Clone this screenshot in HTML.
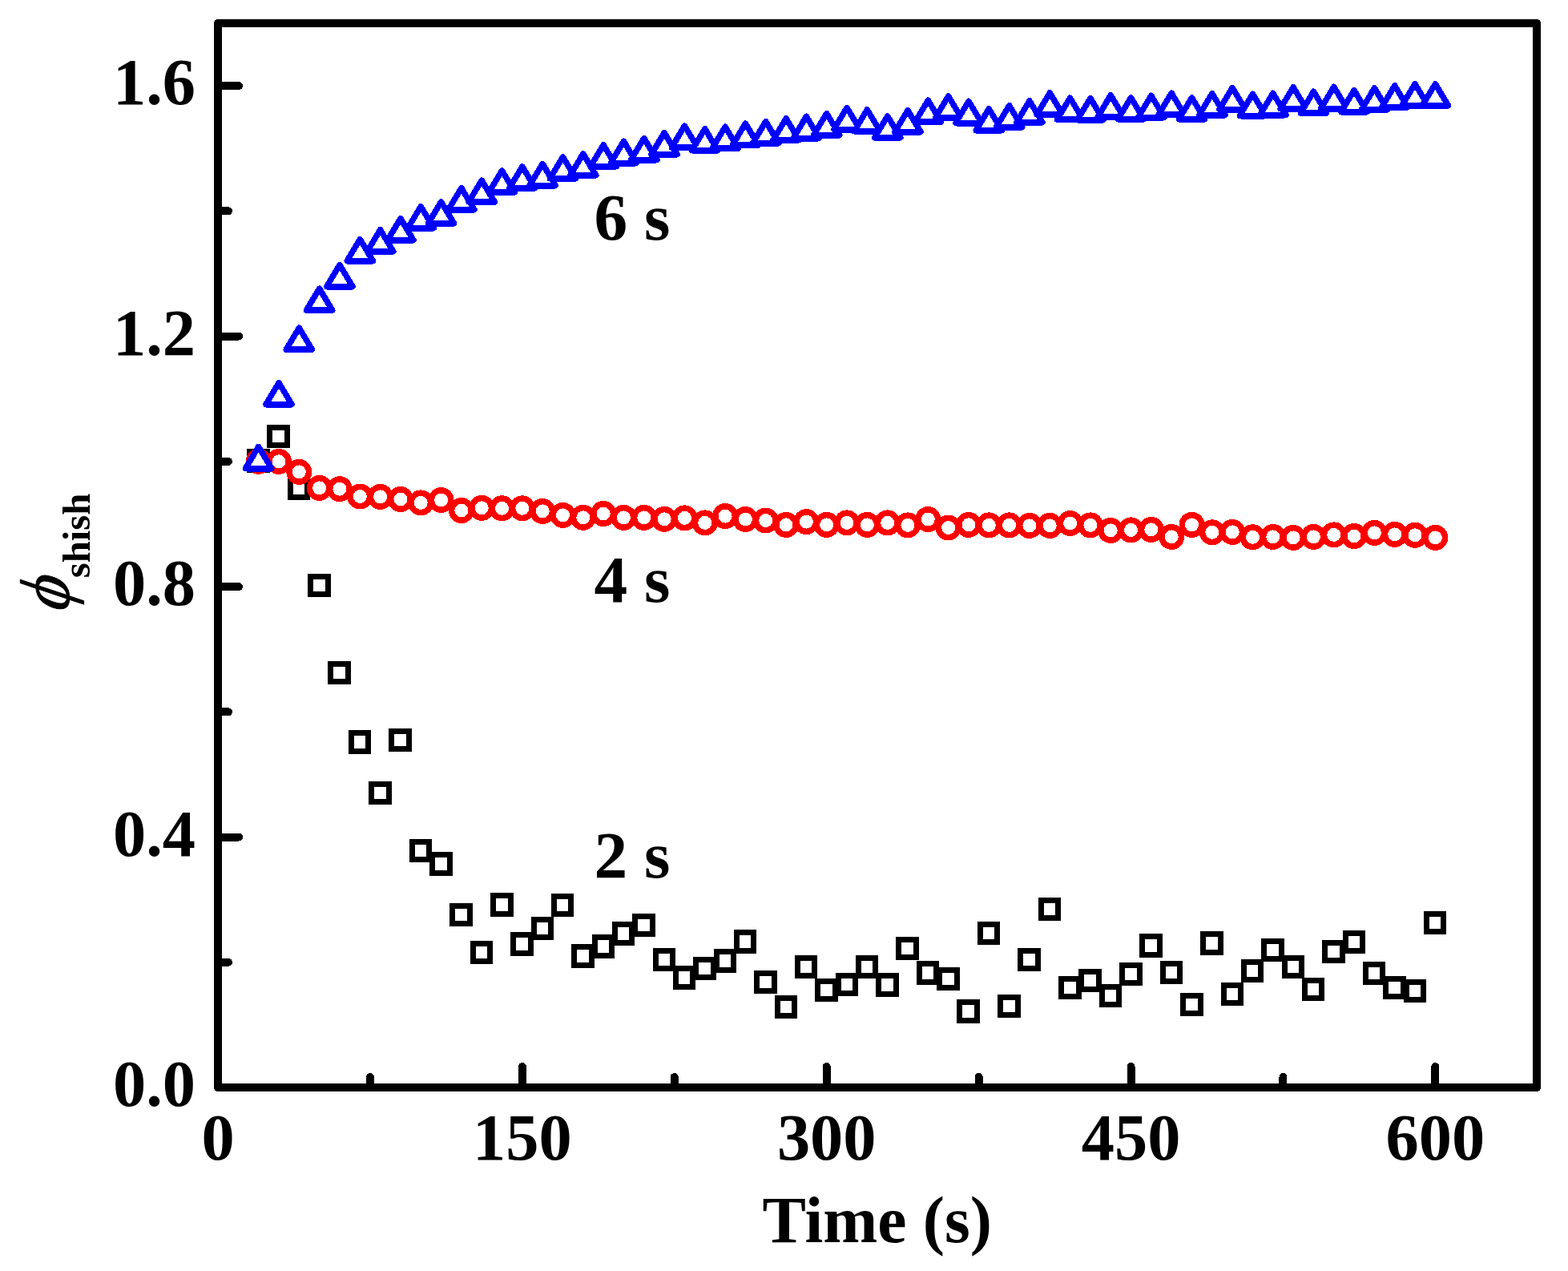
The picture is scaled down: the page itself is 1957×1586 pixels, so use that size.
<!DOCTYPE html>
<html lang="en"><head><meta charset="utf-8"><title>Shish fraction vs time</title>
<style>
html,body{margin:0;padding:0;background:#fff;}
body{width:1957px;height:1586px;overflow:hidden;}
svg{display:block;}
text{font-family:"Liberation Serif","DejaVu Serif",serif;font-weight:bold;fill:#000;}
.g{shape-rendering:crispEdges;}
</style></head><body>
<svg width="1957" height="1586" viewBox="0 0 1957 1586">
<rect x="0" y="0" width="1957" height="1586" fill="#fff"/>
<g class="g" fill="#fff" stroke="#000" stroke-width="7">
<rect x="311.65" y="563.75" width="21.5" height="22.5"/>
<rect x="336.97" y="533.25" width="21.5" height="22.5"/>
<rect x="362.29" y="597.95" width="21.5" height="22.5"/>
<rect x="387.62" y="719.25" width="21.5" height="22.5"/>
<rect x="412.94" y="828.25" width="21.5" height="22.5"/>
<rect x="438.26" y="914.75" width="21.5" height="22.5"/>
<rect x="463.58" y="978.25" width="21.5" height="22.5"/>
<rect x="488.91" y="912.25" width="21.5" height="22.5"/>
<rect x="514.23" y="1050.25" width="21.5" height="22.5"/>
<rect x="539.55" y="1066.65" width="21.5" height="22.5"/>
<rect x="564.88" y="1130.25" width="21.5" height="22.5"/>
<rect x="590.2" y="1177.25" width="21.5" height="22.5"/>
<rect x="615.52" y="1117.75" width="21.5" height="22.5"/>
<rect x="640.85" y="1166.75" width="21.5" height="22.5"/>
<rect x="666.17" y="1147.15" width="21.5" height="22.5"/>
<rect x="691.49" y="1118.25" width="21.5" height="22.5"/>
<rect x="716.82" y="1181.75" width="21.5" height="22.5"/>
<rect x="742.14" y="1169.75" width="21.5" height="22.5"/>
<rect x="767.46" y="1153.65" width="21.5" height="22.5"/>
<rect x="792.78" y="1143.25" width="21.5" height="22.5"/>
<rect x="818.11" y="1186.35" width="21.5" height="22.5"/>
<rect x="843.43" y="1208.75" width="21.5" height="22.5"/>
<rect x="868.75" y="1197.25" width="21.5" height="22.5"/>
<rect x="894.08" y="1187.75" width="21.5" height="22.5"/>
<rect x="919.4" y="1163.75" width="21.5" height="22.5"/>
<rect x="944.72" y="1214.15" width="21.5" height="22.5"/>
<rect x="970.05" y="1245.25" width="21.5" height="22.5"/>
<rect x="995.37" y="1195.25" width="21.5" height="22.5"/>
<rect x="1020.69" y="1224.05" width="21.5" height="22.5"/>
<rect x="1046.02" y="1217.05" width="21.5" height="22.5"/>
<rect x="1071.34" y="1195.25" width="21.5" height="22.5"/>
<rect x="1096.66" y="1217.65" width="21.5" height="22.5"/>
<rect x="1121.98" y="1172.25" width="21.5" height="22.5"/>
<rect x="1147.31" y="1202.75" width="21.5" height="22.5"/>
<rect x="1172.63" y="1210.15" width="21.5" height="22.5"/>
<rect x="1197.95" y="1250.75" width="21.5" height="22.5"/>
<rect x="1223.28" y="1153.15" width="21.5" height="22.5"/>
<rect x="1248.6" y="1244.15" width="21.5" height="22.5"/>
<rect x="1273.92" y="1186.35" width="21.5" height="22.5"/>
<rect x="1299.25" y="1123.35" width="21.5" height="22.5"/>
<rect x="1324.57" y="1221.25" width="21.5" height="22.5"/>
<rect x="1349.89" y="1212.25" width="21.5" height="22.5"/>
<rect x="1375.22" y="1231.25" width="21.5" height="22.5"/>
<rect x="1400.54" y="1204.25" width="21.5" height="22.5"/>
<rect x="1425.86" y="1168.75" width="21.5" height="22.5"/>
<rect x="1451.18" y="1202.25" width="21.5" height="22.5"/>
<rect x="1476.51" y="1242.15" width="21.5" height="22.5"/>
<rect x="1501.83" y="1165.75" width="21.5" height="22.5"/>
<rect x="1527.15" y="1229.25" width="21.5" height="22.5"/>
<rect x="1552.48" y="1200.25" width="21.5" height="22.5"/>
<rect x="1577.8" y="1174.15" width="21.5" height="22.5"/>
<rect x="1603.12" y="1195.25" width="21.5" height="22.5"/>
<rect x="1628.45" y="1223.25" width="21.5" height="22.5"/>
<rect x="1653.77" y="1176.25" width="21.5" height="22.5"/>
<rect x="1679.09" y="1164.25" width="21.5" height="22.5"/>
<rect x="1704.42" y="1203.25" width="21.5" height="22.5"/>
<rect x="1729.74" y="1221.25" width="21.5" height="22.5"/>
<rect x="1755.06" y="1225.25" width="21.5" height="22.5"/>
<rect x="1780.38" y="1140.25" width="21.5" height="22.5"/>
</g>
<g class="g" fill="#fff" stroke="#f00" stroke-width="7.5">
<circle cx="322.65" cy="575.75" r="12.25"/>
<circle cx="347.97" cy="575.9" r="12.25"/>
<circle cx="373.29" cy="588.9" r="12.25"/>
<circle cx="398.62" cy="608.9" r="12.25"/>
<circle cx="423.94" cy="610.2" r="12.25"/>
<circle cx="449.26" cy="619.5" r="12.25"/>
<circle cx="474.58" cy="619.9" r="12.25"/>
<circle cx="499.91" cy="623" r="12.25"/>
<circle cx="525.23" cy="627.4" r="12.25"/>
<circle cx="550.55" cy="624" r="12.25"/>
<circle cx="575.88" cy="637" r="12.25"/>
<circle cx="601.2" cy="633.8" r="12.25"/>
<circle cx="626.52" cy="634.3" r="12.25"/>
<circle cx="651.85" cy="634.3" r="12.25"/>
<circle cx="677.17" cy="637.9" r="12.25"/>
<circle cx="702.49" cy="642.9" r="12.25"/>
<circle cx="727.82" cy="645.8" r="12.25"/>
<circle cx="753.14" cy="641" r="12.25"/>
<circle cx="778.46" cy="645.9" r="12.25"/>
<circle cx="803.78" cy="645.9" r="12.25"/>
<circle cx="829.11" cy="647.8" r="12.25"/>
<circle cx="854.43" cy="646.4" r="12.25"/>
<circle cx="879.75" cy="652.4" r="12.25"/>
<circle cx="905.08" cy="644.1" r="12.25"/>
<circle cx="930.4" cy="648" r="12.25"/>
<circle cx="955.72" cy="649.5" r="12.25"/>
<circle cx="981.05" cy="654.9" r="12.25"/>
<circle cx="1006.37" cy="651.1" r="12.25"/>
<circle cx="1031.69" cy="654.9" r="12.25"/>
<circle cx="1057.02" cy="652.4" r="12.25"/>
<circle cx="1082.34" cy="654.9" r="12.25"/>
<circle cx="1107.66" cy="652.4" r="12.25"/>
<circle cx="1132.98" cy="655.4" r="12.25"/>
<circle cx="1158.31" cy="648" r="12.25"/>
<circle cx="1183.63" cy="658.5" r="12.25"/>
<circle cx="1208.95" cy="654.9" r="12.25"/>
<circle cx="1234.28" cy="655.4" r="12.25"/>
<circle cx="1259.6" cy="655.4" r="12.25"/>
<circle cx="1284.92" cy="655.9" r="12.25"/>
<circle cx="1310.25" cy="655.9" r="12.25"/>
<circle cx="1335.57" cy="653" r="12.25"/>
<circle cx="1360.89" cy="655.4" r="12.25"/>
<circle cx="1386.22" cy="661.9" r="12.25"/>
<circle cx="1411.54" cy="661.4" r="12.25"/>
<circle cx="1436.86" cy="660.9" r="12.25"/>
<circle cx="1462.18" cy="669.9" r="12.25"/>
<circle cx="1487.51" cy="654.9" r="12.25"/>
<circle cx="1512.83" cy="664.3" r="12.25"/>
<circle cx="1538.15" cy="663.9" r="12.25"/>
<circle cx="1563.48" cy="670.3" r="12.25"/>
<circle cx="1588.8" cy="669.9" r="12.25"/>
<circle cx="1614.12" cy="670.9" r="12.25"/>
<circle cx="1639.45" cy="669.9" r="12.25"/>
<circle cx="1664.77" cy="667.4" r="12.25"/>
<circle cx="1690.09" cy="669" r="12.25"/>
<circle cx="1715.42" cy="664.9" r="12.25"/>
<circle cx="1740.74" cy="666.9" r="12.25"/>
<circle cx="1766.06" cy="667.8" r="12.25"/>
<circle cx="1791.38" cy="670.9" r="12.25"/>
</g>
<g class="g" fill="#fff" stroke="#00f" stroke-width="7.4" stroke-linejoin="round" stroke-linecap="round">
<path d="M322.65 557.4L338.8 584.35H306.5ZM308.5 584.95H336.8"/>
<path d="M347.97 477.65L364.12 504.6H331.82ZM333.82 505.2H362.12"/>
<path d="M373.29 409.15L389.44 436.1H357.14ZM359.14 436.7H387.44"/>
<path d="M398.62 360.15L414.77 387.1H382.47ZM384.47 387.7H412.77"/>
<path d="M423.94 330.55L440.09 357.5H407.79ZM409.79 358.1H438.09"/>
<path d="M449.26 298.55L465.41 325.5H433.11ZM435.11 326.1H463.41"/>
<path d="M474.58 286.65L490.73 313.6H458.43ZM460.43 314.2H488.73"/>
<path d="M499.91 272.65L516.06 299.6H483.76ZM485.76 300.2H514.06"/>
<path d="M525.23 257.55L541.38 284.5H509.08ZM511.08 285.1H539.38"/>
<path d="M550.55 251.95L566.7 278.9H534.4ZM536.4 279.5H564.7"/>
<path d="M575.88 234.65L592.03 261.6H559.73ZM561.73 262.2H590.03"/>
<path d="M601.2 225.15L617.35 252.1H585.05ZM587.05 252.7H615.35"/>
<path d="M626.52 212.75L642.67 239.7H610.37ZM612.37 240.3H640.67"/>
<path d="M651.85 207.85L668 234.8H635.7ZM637.7 235.4H666"/>
<path d="M677.17 204.45L693.32 231.4H661.02ZM663.02 232H691.32"/>
<path d="M702.49 195.85L718.64 222.8H686.34ZM688.34 223.4H716.64"/>
<path d="M727.82 191.85L743.97 218.8H711.67ZM713.67 219.4H741.97"/>
<path d="M753.14 180.85L769.29 207.8H736.99ZM738.99 208.4H767.29"/>
<path d="M778.46 176.25L794.61 203.2H762.31ZM764.31 203.8H792.61"/>
<path d="M803.78 172.45L819.93 199.4H787.63ZM789.63 200H817.93"/>
<path d="M829.11 165.65L845.26 192.6H812.96ZM814.96 193.2H843.26"/>
<path d="M854.43 157.15L870.58 184.1H838.28ZM840.28 184.7H868.58"/>
<path d="M879.75 160.75L895.9 187.7H863.6ZM865.6 188.3H893.9"/>
<path d="M905.08 158.15L921.23 185.1H888.93ZM890.93 185.7H919.23"/>
<path d="M930.4 154.15L946.55 181.1H914.25ZM916.25 181.7H944.55"/>
<path d="M955.72 151.65L971.87 178.6H939.57ZM941.57 179.2H969.87"/>
<path d="M981.05 147.85L997.2 174.8H964.9ZM966.9 175.4H995.2"/>
<path d="M1006.37 145.25L1022.52 172.2H990.22ZM992.22 172.8H1020.52"/>
<path d="M1031.69 141.55L1047.84 168.5H1015.54ZM1017.54 169.1H1045.84"/>
<path d="M1057.02 134.35L1073.17 161.3H1040.87ZM1042.87 161.9H1071.17"/>
<path d="M1082.34 136.75L1098.49 163.7H1066.19ZM1068.19 164.3H1096.49"/>
<path d="M1107.66 144.85L1123.81 171.8H1091.51ZM1093.51 172.4H1121.81"/>
<path d="M1132.98 137.75L1149.13 164.7H1116.83ZM1118.83 165.3H1147.13"/>
<path d="M1158.31 125.15L1174.46 152.1H1142.16ZM1144.16 152.7H1172.46"/>
<path d="M1183.63 119.95L1199.78 146.9H1167.48ZM1169.48 147.5H1197.78"/>
<path d="M1208.95 126.35L1225.1 153.3H1192.8ZM1194.8 153.9H1223.1"/>
<path d="M1234.28 135.75L1250.43 162.7H1218.13ZM1220.13 163.3H1248.43"/>
<path d="M1259.6 131.65L1275.75 158.6H1243.45ZM1245.45 159.2H1273.75"/>
<path d="M1284.92 125.75L1301.07 152.7H1268.77ZM1270.77 153.3H1299.07"/>
<path d="M1310.25 115.85L1326.4 142.8H1294.1ZM1296.1 143.4H1324.4"/>
<path d="M1335.57 122.15L1351.72 149.1H1319.42ZM1321.42 149.7H1349.72"/>
<path d="M1360.89 122.65L1377.04 149.6H1344.74ZM1346.74 150.2H1375.04"/>
<path d="M1386.22 118.85L1402.37 145.8H1370.07ZM1372.07 146.4H1400.37"/>
<path d="M1411.54 121.75L1427.69 148.7H1395.39ZM1397.39 149.3H1425.69"/>
<path d="M1436.86 119.35L1453.01 146.3H1420.71ZM1422.71 146.9H1451.01"/>
<path d="M1462.18 116.15L1478.33 143.1H1446.03ZM1448.03 143.7H1476.33"/>
<path d="M1487.51 121.75L1503.66 148.7H1471.36ZM1473.36 149.3H1501.66"/>
<path d="M1512.83 116.65L1528.98 143.6H1496.68ZM1498.68 144.2H1526.98"/>
<path d="M1538.15 109.45L1554.3 136.4H1522ZM1524 137H1552.3"/>
<path d="M1563.48 117.25L1579.63 144.2H1547.33ZM1549.33 144.8H1577.63"/>
<path d="M1588.8 116.25L1604.95 143.2H1572.65ZM1574.65 143.8H1602.95"/>
<path d="M1614.12 108.85L1630.27 135.8H1597.97ZM1599.97 136.4H1628.27"/>
<path d="M1639.45 114.15L1655.6 141.1H1623.3ZM1625.3 141.7H1653.6"/>
<path d="M1664.77 108.35L1680.92 135.3H1648.62ZM1650.62 135.9H1678.92"/>
<path d="M1690.09 112.65L1706.24 139.6H1673.94ZM1675.94 140.2H1704.24"/>
<path d="M1715.42 109.85L1731.57 136.8H1699.27ZM1701.27 137.4H1729.57"/>
<path d="M1740.74 106.75L1756.89 133.7H1724.59ZM1726.59 134.3H1754.89"/>
<path d="M1766.06 104.65L1782.21 131.6H1749.91ZM1751.91 132.2H1780.21"/>
<path d="M1791.38 104.75L1807.53 131.7H1775.23ZM1777.23 132.3H1805.53"/>
</g>
<g class="g" fill="none" stroke="#000" stroke-width="10" stroke-linecap="round" stroke-linejoin="round">
<rect x="272" y="29" width="1646" height="1328"/>
<line x1="272" y1="1357" x2="298" y2="1357"/>
<line x1="272" y1="1200.76" x2="285" y2="1200.76"/>
<line x1="272" y1="1044.53" x2="298" y2="1044.53"/>
<line x1="272" y1="888.29" x2="285" y2="888.29"/>
<line x1="272" y1="732.06" x2="298" y2="732.06"/>
<line x1="272" y1="575.82" x2="285" y2="575.82"/>
<line x1="272" y1="419.59" x2="298" y2="419.59"/>
<line x1="272" y1="263.35" x2="285" y2="263.35"/>
<line x1="272" y1="107.12" x2="298" y2="107.12"/>
<line x1="272" y1="1357" x2="272" y2="1331"/>
<line x1="461.92" y1="1357" x2="461.92" y2="1344"/>
<line x1="651.85" y1="1357" x2="651.85" y2="1331"/>
<line x1="841.77" y1="1357" x2="841.77" y2="1344"/>
<line x1="1031.69" y1="1357" x2="1031.69" y2="1331"/>
<line x1="1221.62" y1="1357" x2="1221.62" y2="1344"/>
<line x1="1411.54" y1="1357" x2="1411.54" y2="1331"/>
<line x1="1601.46" y1="1357" x2="1601.46" y2="1344"/>
<line x1="1791.38" y1="1357" x2="1791.38" y2="1331"/>
</g>
<g font-size="83.33">
<text x="244" y="1380.2" text-anchor="end" textLength="103.02" lengthAdjust="spacingAndGlyphs">0.0</text>
<text x="244" y="1067.73" text-anchor="end" textLength="103.02" lengthAdjust="spacingAndGlyphs">0.4</text>
<text x="244" y="755.26" text-anchor="end" textLength="103.02" lengthAdjust="spacingAndGlyphs">0.8</text>
<text x="244" y="442.79" text-anchor="end" textLength="103.02" lengthAdjust="spacingAndGlyphs">1.2</text>
<text x="244" y="130.32" text-anchor="end" textLength="103.02" lengthAdjust="spacingAndGlyphs">1.6</text>
<text x="272" y="1447.2" text-anchor="middle" textLength="41.21" lengthAdjust="spacingAndGlyphs">0</text>
<text x="651.85" y="1447.2" text-anchor="middle" textLength="123.62" lengthAdjust="spacingAndGlyphs">150</text>
<text x="1031.69" y="1447.2" text-anchor="middle" textLength="123.62" lengthAdjust="spacingAndGlyphs">300</text>
<text x="1411.54" y="1447.2" text-anchor="middle" textLength="123.62" lengthAdjust="spacingAndGlyphs">450</text>
<text x="1791.38" y="1447.2" text-anchor="middle" textLength="123.62" lengthAdjust="spacingAndGlyphs">600</text>
<text id="xtitle" x="1094.7" y="1549.7" text-anchor="middle" textLength="286.3" lengthAdjust="spacingAndGlyphs">Time (s)</text>
<text x="741.5" y="299.2">6 s</text>
<text x="741.5" y="750.6">4 s</text>
<text x="741.5" y="1094.8">2 s</text>
<text id="phi" transform="translate(86 767.5) rotate(-90) skewX(-18.5) scale(0.95 1)" font-size="87.5" style="font-weight:normal" stroke="#000" stroke-width="1" stroke-linejoin="round">ϕ</text>
<text id="sub" transform="translate(111.5 721.3) rotate(-90)" font-size="48.7" textLength="105.7" lengthAdjust="spacingAndGlyphs">shish</text>
</g>
</svg></body></html>
